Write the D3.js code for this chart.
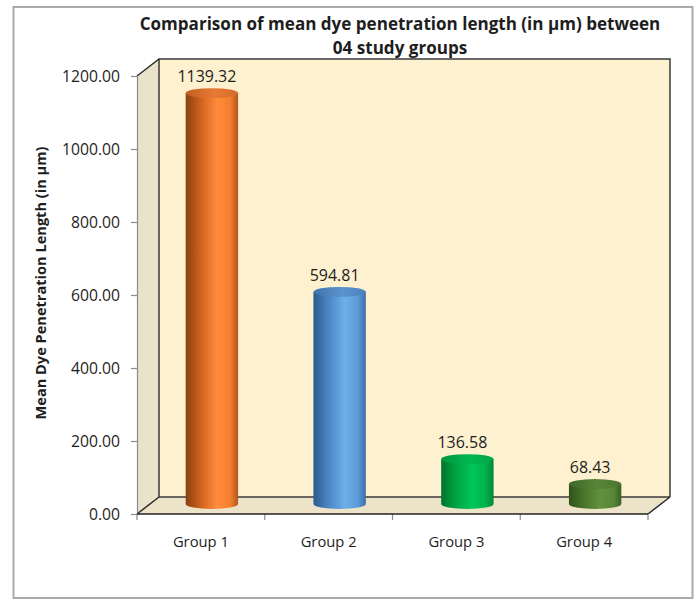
<!DOCTYPE html>
<html>
<head>
<meta charset="utf-8">
<script src="https://cdn.jsdelivr.net/npm/d3@7"></script>
<style>
  html, body { margin: 0; padding: 0; background: #fff; }
  svg { display: block; }
  text { font-family: "Open Sans", "Noto Sans", sans-serif; fill: #1e1e1e; }
</style>
</head>
<body>
<svg id="chart" width="696" height="600"></svg>
<script>
// ---- data ----
const categories = ["Group 1", "Group 2", "Group 3", "Group 4"];
const values = [1139.32, 594.81, 136.58, 68.43];
const yTickValues = [0, 200, 400, 600, 800, 1000, 1200];
const titleLines = ["Comparison of mean dye penetration length (in \u00b5m) between", "04 study groups"];
const yAxisTitle = "Mean Dye Penetration Length (in \u00b5m)";

// ---- styles ----
const barGradients = [
  ["#8c4012", "#d2641e", "#ff8c3c", "#f47e2e", "#b4561a"],
  ["#2c5a8e", "#4c88c6", "#6eaeea", "#5d9bd8", "#3a6ea6"],
  ["#00742e", "#00a644", "#00c658", "#00b24c", "#008636"],
  ["#30521a", "#4a762c", "#62923e", "#57863a", "#3b6020"]
];
const topColors = [
  ["#c25e22", "#e67a34", "#d26c2a"],
  ["#3f74ab", "#5a94cf", "#4a82bc"],
  ["#00963e", "#00b850", "#00a446"],
  ["#3f6626", "#578538", "#4a742e"]
];

const svg = d3.select("#chart");
const defs = svg.append("defs");

// frame
svg.append("rect").attr("x", 13.5).attr("y", 7).attr("width", 679).attr("height", 591)
  .attr("fill", "#fff").attr("stroke", "#aaaaaa").attr("stroke-width", 2);

// scales
const x0 = 137, x1 = 648;
const dx = 22, dy = -17;
const y = d3.scaleLinear().domain([0, 1200]).range([514, 76]);
const x = d3.scaleBand().domain(categories).range([x0, x1]).paddingInner(0.59).paddingOuter(0.295);

const yb = y(0), yt = y(1200);

// side wall
svg.append("path")
  .attr("d", `M${x0},${yb} L${x0+dx},${yb+dy} L${x0+dx},${yt+dy} L${x0},${yt} Z`)
  .attr("fill", "#ebe2cb");
// back wall
svg.append("rect").attr("x", x0+dx).attr("y", yt+dy).attr("width", x1 - x0).attr("height", yb - yt)
  .attr("fill", "#fef1cf");
// floor
svg.append("path")
  .attr("d", `M${x0},${yb} L${x0+dx},${yb+dy} L${x1+dx},${yb+dy} L${x1},${yb} Z`)
  .attr("fill", "#ede3c8");

// wall edges
const edge = (d, c, w) => svg.append("path").attr("d", d).attr("fill", "none")
  .attr("stroke", c).attr("stroke-width", w);
edge(`M${x0+dx},${yb+dy} L${x0+dx},${yt+dy} L${x1+dx},${yt+dy} L${x1+dx},${yb+dy}`, "#3a3a3a", 1.5);
edge(`M${x0+dx},${yb+dy} L${x1+dx},${yb+dy}`, "#3a3a3a", 1.5);
edge(`M${x0},${yt} L${x0+dx},${yt+dy}`, "#2a2a2a", 1.5);
edge(`M${x0},${yb} L${x0+dx},${yb+dy}`, "#2a2a2a", 1.5);
edge(`M${x1},${yb} L${x1+dx},${yb+dy}`, "#2a2a2a", 1.5);

// y axis
const yAxis = svg.append("g").attr("transform", `translate(${x0},0)`)
  .call(d3.axisLeft(y).tickValues(yTickValues).tickFormat(d3.format(".2f")).tickSize(6).tickSizeOuter(0).tickPadding(11));
yAxis.selectAll("path.domain").attr("stroke", "#8c8c8c").attr("stroke-width", 1.2);
yAxis.selectAll(".tick line").attr("stroke", "#8c8c8c").attr("stroke-width", 1.2);
yAxis.selectAll(".tick text").attr("class", "ytick").attr("font-family", null).style("font-size", "14px").attr("fill", "#1e1e1e");

// x axis ticks at category boundaries
const bounds = d3.range(categories.length + 1).map(i => x0 + i * x.step());
svg.append("g").selectAll("line").data(bounds).join("line")
  .attr("x1", d => d).attr("x2", d => d).attr("y1", yb).attr("y2", yb + 6)
  .attr("stroke", "#8c8c8c").attr("stroke-width", 1.2);
// front floor edge
edge(`M${x0},${yb} L${x1},${yb}`, "#222", 1.6);

// x labels
svg.append("g").selectAll("text").data(categories).join("text")
  .attr("class", "xlab")
  .attr("x", d => x(d) + x.bandwidth() / 2)
  .attr("y", 547)
  .attr("text-anchor", "middle")
  .style("font-size", "13px")
  .text(d => d);

// gradients
barGradients.forEach((stops, i) => {
  const g = defs.append("linearGradient").attr("id", "bg" + i).attr("x1", "0").attr("x2", "1").attr("y1", "0").attr("y2", "0");
  const offs = [0, 0.3, 0.6, 0.85, 1];
  stops.forEach((c, j) => g.append("stop").attr("offset", offs[j]).attr("stop-color", c));
});
topColors.forEach((stops, i) => {
  const g = defs.append("linearGradient").attr("id", "tg" + i).attr("x1", "0").attr("x2", "1").attr("y1", "0").attr("y2", "0");
  const offs = [0, 0.55, 1];
  stops.forEach((c, j) => g.append("stop").attr("offset", offs[j]).attr("stop-color", c));
});

// bars (cylinders)
const bw = x.bandwidth();
const rx = bw / 2, ry = 5;
const bars = categories.map((c, i) => {
  const cx = x(c) + bw / 2 + dx / 2;
  return { c, v: values[i], i, cx, yTop: y(values[i]) - 5, yBot: y(0) - 10 };
});
const bg = svg.append("g");
bars.forEach(b => {
  bg.append("path")
    .attr("d", `M${b.cx - rx},${b.yTop} L${b.cx - rx},${b.yBot} A${rx},${ry} 0 0 0 ${b.cx + rx},${b.yBot} L${b.cx + rx},${b.yTop} Z`)
    .attr("fill", `url(#bg${b.i})`);
  bg.append("ellipse").attr("cx", b.cx).attr("cy", b.yTop).attr("rx", rx).attr("ry", ry)
    .attr("fill", `url(#tg${b.i})`);
});

// value labels
svg.append("g").selectAll("text").data(bars).join("text")
  .attr("class", "vlab")
  .attr("x", d => d.cx - 5)
  .attr("y", d => d.yTop - 11)
  .attr("text-anchor", "middle")
  .style("font-size", "13px")
  .text(d => d3.format(".2f")(d.v));

// title
svg.append("g").selectAll("text").data(titleLines).join("text")
  .attr("class", "title")
  .attr("x", 400)
  .attr("y", (d, i) => 30 + i * 24)
  .attr("text-anchor", "middle")
  .style("font-size", "15px")
  .style("font-weight", "bold")
  .text(d => d);

// y axis title
svg.append("text")
  .attr("class", "ytitle")
  .attr("transform", "translate(46,283) rotate(-90)")
  .attr("text-anchor", "middle")
  .style("font-size", "12px")
  .style("font-weight", "bold")
  .text(yAxisTitle);

// fit font sizes to measured widths of the reference
function fit(cls, sampleIndex, target) {
  const sel = svg.selectAll("." + cls);
  const node = sel.nodes()[sampleIndex];
  const fs = parseFloat(node.style.fontSize);
  const w = node.getComputedTextLength();
  const nfs = fs * target / w;
  sel.style("font-size", nfs + "px");
}
fit("title", 0, 521);
fit("ytitle", 0, 273);
fit("ytick", 6, 58);
fit("xlab", 0, 56);
fit("vlab", 0, 59);
</script>
</body>
</html>
